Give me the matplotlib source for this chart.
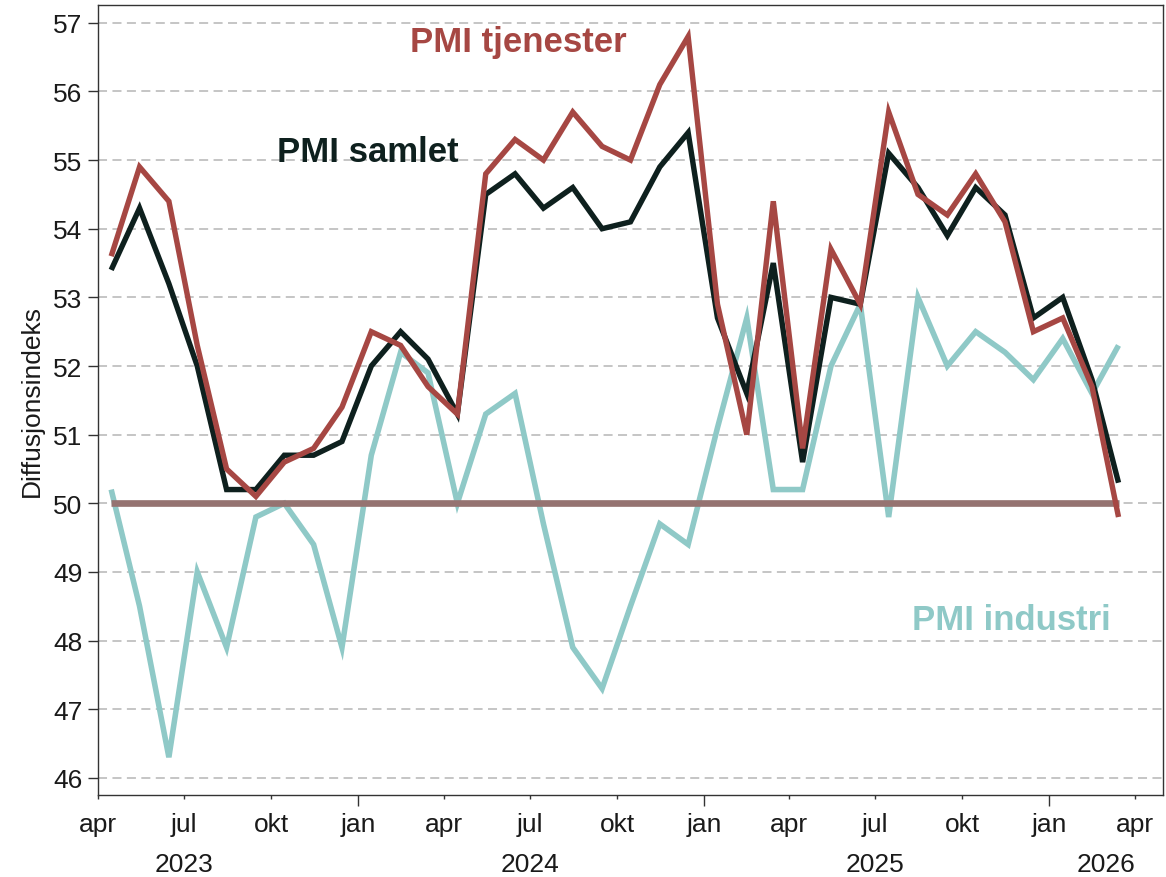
import matplotlib.pyplot as plt
import matplotlib.dates as mdates
import pandas as pd
from matplotlib.ticker import FuncFormatter

plt.rcParams['font.family'] = ['Liberation Sans', 'DejaVu Sans']

# Monthly PMI readings, April 2023 - March 2026 (plotted mid-month)
months = pd.date_range("2023-04-01", periods=36, freq="MS") + pd.Timedelta(days=14)

pmi_samlet = [53.4, 54.3, 53.2, 52.0, 50.2, 50.2, 50.7, 50.7, 50.9, 52.0, 52.5, 52.1,
              51.3, 54.5, 54.8, 54.3, 54.6, 54.0, 54.1, 54.9, 55.4, 52.7, 51.6, 53.5,
              50.6, 53.0, 52.9, 55.1, 54.6, 53.9, 54.6, 54.2, 52.7, 53.0, 51.8, 50.3]
pmi_tjenester = [53.6, 54.9, 54.4, 52.3, 50.5, 50.1, 50.6, 50.8, 51.4, 52.5, 52.3, 51.7,
                 51.3, 54.8, 55.3, 55.0, 55.7, 55.2, 55.0, 56.1, 56.8, 52.9, 51.0, 54.4,
                 50.8, 53.7, 52.9, 55.7, 54.5, 54.2, 54.8, 54.1, 52.5, 52.7, 51.7, 49.8]
pmi_industri = [50.2, 48.5, 46.3, 49.0, 47.9, 49.8, 50.0, 49.4, 47.9, 50.7, 52.2, 51.9,
                50.0, 51.3, 51.6, 49.7, 47.9, 47.3, 48.5, 49.7, 49.4, 51.1, 52.7, 50.2,
                50.2, 52.0, 52.9, 49.8, 53.0, 52.0, 52.5, 52.2, 51.8, 52.4, 51.6, 52.3]
threshold = [50] * len(months)

month_names = {1: "jan", 4: "apr", 7: "jul", 10: "okt"}
year_labels = [("2023", "2023-07-01"), ("2024", "2024-07-01"),
               ("2025", "2025-07-01"), ("2026", "2026-03-02")]

red = "#a64743"
black = "#0e201e"
teal = "#8fc9c7"
brown = "#957371"

fig = plt.figure(figsize=(11.66, 8.78), dpi=100)
ax = fig.add_axes([0.084, 0.0934, 0.9134, 0.8998])

line_kw = dict(solid_joinstyle="miter", solid_capstyle="butt")
ax.plot(months, pmi_industri, color=teal, lw=4.0, zorder=2, **line_kw)
ax.plot(months, threshold, color=brown, lw=4.8, zorder=2.5, **line_kw)
ax.plot(months, pmi_samlet, color=black, lw=3.9, zorder=3, **line_kw)
ax.plot(months, pmi_tjenester, color=red, lw=3.9, zorder=4, **line_kw)

# Axes limits and grid
ax.set_xlim(pd.Timestamp("2023-04-01"), pd.Timestamp("2026-05-01"))
ax.set_ylim(45.75, 57.26)
ax.set_yticks(range(46, 58))
ax.yaxis.grid(True, linestyle=(0, (5, 3)), color="#c0c0c0", lw=1.3)
ax.set_axisbelow(True)

for spine in ax.spines.values():
    spine.set_color("#333333")
    spine.set_linewidth(1.0)

# Quarterly month ticks: long at January, short otherwise
fmt = FuncFormatter(lambda x, pos: month_names.get(mdates.num2date(x).month, ""))
ax.xaxis.set_major_locator(mdates.MonthLocator(bymonth=[1]))
ax.xaxis.set_minor_locator(mdates.MonthLocator(bymonth=[4, 7, 10]))
ax.xaxis.set_major_formatter(fmt)
ax.xaxis.set_minor_formatter(fmt)
ax.tick_params(axis="x", which="major", length=7.7, width=1, pad=4.5,
               labelsize=19, colors="#333333", labelcolor="#1a1a1a")
ax.tick_params(axis="x", which="minor", length=3, width=1, pad=9.2,
               labelsize=19, colors="#333333", labelcolor="#1a1a1a")
ax.tick_params(axis="y", length=7, width=1, pad=4,
               labelsize=19, colors="#333333", labelcolor="#1a1a1a")

for label, date in year_labels:
    ax.text(pd.Timestamp(date), -0.087, label, transform=ax.get_xaxis_transform(),
            ha="center", va="center", fontsize=19, color="#1a1a1a")

ax.set_ylabel("Diffusjonsindeks", fontsize=19, color="#1a1a1a", labelpad=7)

# Series labels
ax.text(0.293, 0.942, "PMI tjenester", transform=ax.transAxes, color=red,
        fontsize=25, fontweight="bold", va="baseline")
ax.text(0.168, 0.8025, "PMI samlet", transform=ax.transAxes, color=black,
        fontsize=25, fontweight="bold", va="baseline")
ax.text(0.764, 0.210, "PMI industri", transform=ax.transAxes, color=teal,
        fontsize=25, fontweight="bold", va="baseline")

fig.savefig("out.png", dpi=100)
